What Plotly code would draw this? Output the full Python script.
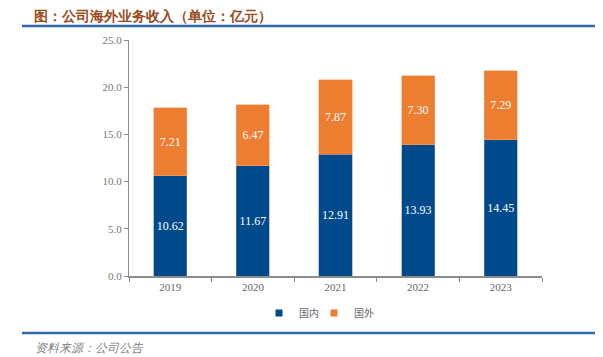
import plotly.graph_objects as go

years = ["2019", "2020", "2021", "2022", "2023"]
domestic = [10.62, 11.67, 12.91, 13.93, 14.45]
overseas = [7.21, 6.47, 7.87, 7.30, 7.29]
y_ticks = [0, 5, 10, 15, 20, 25]

BLUE = "#004A8C"
ORANGE = "#ED7D31"
SERIF = "Liberation Serif"
CJK = "Noto Sans CJK SC"

fig = go.Figure()
fig.add_trace(go.Bar(
    x=years, y=domestic, name="国内", marker_color=BLUE,
    marker_line=dict(color="#6F8FB5", width=0.5),
    text=[f"{v:.2f}" for v in domestic], textposition="inside",
    insidetextanchor="middle", showlegend=False,
    textfont=dict(family=SERIF, size=12, color="white"), width=0.4,
))
fig.add_trace(go.Bar(
    x=years, y=overseas, name="国外", marker_color=ORANGE,
    marker_line=dict(color="#F3A66E", width=0.5),
    text=[f"{v:.2f}" for v in overseas], textposition="inside",
    insidetextanchor="middle", showlegend=False,
    textfont=dict(family=SERIF, size=12, color="white"), width=0.4,
))
# legend entries with small square symbols, one legend each
for nm, col, lg in (("国内", BLUE, "legend"), ("国外", ORANGE, "legend2")):
    fig.add_trace(go.Scatter(
        x=[None], y=[None], mode="markers", name=nm, legend=lg,
        marker=dict(symbol="square", size=7, color=col),
    ))

legend_common = dict(orientation="h", y=-0.157, xanchor="left", yanchor="middle",
                     bgcolor="rgba(0,0,0,0)",
                     font=dict(family=CJK, size=10, color="#666666"))
fig.update_layout(
    barmode="stack",
    width=595, height=349,
    margin=dict(l=121, r=61, t=32, b=81),
    paper_bgcolor="white", plot_bgcolor="white",
    showlegend=True,
    legend=dict(x=(281 - 22 - 129) / 413, **legend_common),
    legend2=dict(x=(336 - 22 - 129) / 413, **legend_common),
)
fig.update_xaxes(
    type="category", range=[-0.5, 4.5],
    showline=True, linecolor="#8C8C8C", linewidth=1.5,
    ticks="outside", tickson="boundaries", ticklen=4, tickcolor="#8C8C8C",
    tickfont=dict(family=SERIF, size=11, color="#666666"),
    showgrid=False,
)
fig.update_yaxes(
    range=[0, 25], tickvals=y_ticks, tickformat=".1f",
    showline=True, linecolor="#8C8C8C", linewidth=1,
    ticks="outside", ticklen=4, tickcolor="#8C8C8C",
    tickfont=dict(family=SERIF, size=11, color="#777777"),
    showgrid=False, zeroline=False,
)

fig.add_shape(type="line", xref="paper", yref="paper",
              x0=(22 - 129) / 413, x1=(603 - 129) / 413,
              y0=(276 - 26) / 236, y1=(276 - 26) / 236,
              line=dict(color="#2F69A7", width=2.5))
fig.add_shape(type="line", xref="paper", yref="paper",
              x0=(22 - 129) / 413, x1=(603 - 129) / 413,
              y0=(276 - 333) / 236, y1=(276 - 333) / 236,
              line=dict(color="#2F69A7", width=2.5))

fig.add_annotation(text="<b>图：公司海外业务收入（单位：亿元）</b>",
                   xref="paper", yref="paper",
                   x=(33 - 129) / 413, y=(276 - 16) / 236,
                   xanchor="left", yanchor="middle", showarrow=False,
                   borderpad=0,
                   font=dict(family=SERIF, size=14, color="#9B4A1C"))
fig.add_annotation(text="<i>资料来源：公司公告</i>",
                   xref="paper", yref="paper",
                   x=(33 - 129) / 413, y=(276 - 348) / 236,
                   xanchor="left", yanchor="middle", showarrow=False,
                   font=dict(family=SERIF, size=12, color="#7F7F7F"))

fig.write_html("out.html")
